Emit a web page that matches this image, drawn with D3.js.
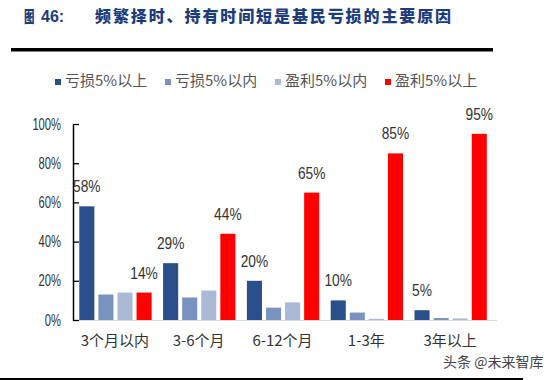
<!DOCTYPE html>
<html>
<head>
<meta charset="utf-8">
<script src="https://cdn.jsdelivr.net/npm/d3@7"></script>
<style>
  body { margin: 0; background: #fff; }
  svg { display: block; }
  text { font-family: "Liberation Sans", Arial, "Noto Sans CJK SC", sans-serif; }
  .cjk { font-family: "Noto Sans CJK SC", sans-serif; }
</style>
</head>
<body>
<div class="chart"></div>
<script>
const width = 556;
const height = 380;

const categories = ['3个月以内', '3-6个月', '6-12个月', '1-3年', '3年以上'];
const seriesNames = ['亏损5%以上', '亏损5%以内', '盈利5%以内', '盈利5%以上'];
const lossOver5 = [58, 29, 20, 10, 5];
const lossUnder5 = [13, 11.5, 6.3, 3.8, 1];
const gainUnder5 = [14, 15, 9, 0.6, 0.8];
const gainOver5 = [14, 44, 65, 85, 95];
const yTicks = [0, 20, 40, 60, 80, 100];
const colors = ['#2b4f8b', '#7a93be', '#aab9d5', '#ff0000'];

const seriesValues = [lossOver5, lossUnder5, gainUnder5, gainOver5];
const rows = categories.map((c, i) => ({cat: c, vals: seriesValues.map(s => s[i])}));

const svg = d3.select('.chart').append('svg')
    .attr('width', width)
    .attr('height', height);

/*      title      */
const navy = '#1c3c7c';
svg.append('text').attr('class', 'cjk')
    .attr('transform', 'translate(24,22) scale(0.7,1)')
    .attr('font-size', 15).attr('font-weight', 900).attr('fill', navy)
    .text('图');
svg.append('text')
    .attr('x', 41).attr('y', 22)
    .attr('font-size', 16).attr('font-weight', 700).attr('fill', navy)
    .text('46:');
svg.append('text').attr('class', 'cjk')
    .attr('x', 95).attr('y', 22)
    .attr('font-size', 16).attr('font-weight', 900).attr('fill', navy)
    .attr('letter-spacing', 1.9)
    .text('频繁择时、持有时间短是基民亏损的主要原因');

// thick rules top and bottom
svg.append('line').attr('x1', 11).attr('x2', 493).attr('y1', 49.7).attr('y2', 49.7)
    .attr('stroke', '#000').attr('stroke-width', 3.6);
svg.append('line').attr('x1', 0).attr('x2', 523).attr('y1', 379.5).attr('y2', 379.5)
    .attr('stroke', '#000').attr('stroke-width', 3);

/*      legend      */
const legend = svg.selectAll('.legend')
    .data(seriesNames)
    .enter()
    .append('g')
    .attr('class', 'legend')
    .attr('transform', (d, i) => `translate(${65 + i * 110}, 81)`);
legend.append('rect')
    .attr('x', -10).attr('y', -2).attr('width', 6).attr('height', 6)
    .attr('fill', (d, i) => colors[i]);
legend.append('text').attr('class', 'cjk')
    .attr('x', 0).attr('y', 0).attr('dy', '0.36em')
    .attr('font-size', 15).attr('fill', '#555')
    .text(d => d);

/*      scales      */
const x0 = d3.scaleBand()
    .domain(categories)
    .range([73, 492]);
const x1 = d3.scaleBand()
    .domain(d3.range(seriesNames.length))
    .range([6.3, 78.6])
    .paddingInner(0.21);
const yScale = d3.scaleLinear()
    .domain([0, 100])
    .range([320, 124]);

// faint baseline
svg.append('line')
    .attr('x1', 73).attr('x2', 497)
    .attr('y1', yScale(0) + 0.5).attr('y2', yScale(0) + 0.5)
    .attr('stroke', '#d6dce8').attr('stroke-width', 1);

/*      y axis      */
const sx = 0.7;
const yAxis = svg.append('g')
    .attr('transform', 'translate(73,0)')
    .call(d3.axisLeft(yScale).tickValues(yTicks).tickSizeInner(-6).tickSizeOuter(0)
        .tickFormat(d => d + '%'));
yAxis.select('.domain').attr('stroke', '#000').attr('stroke-width', 1.5);
yAxis.selectAll('.tick line').attr('stroke', '#000').attr('stroke-width', 1.3);
yAxis.selectAll('.tick text')
    .attr('font-size', 16).attr('fill', '#333')
    .attr('font-family', '"Liberation Sans", Arial, sans-serif')
    .attr('x', -12 / sx)
    .attr('transform', `scale(${sx},1)`);

/*      bars      */
const groups = svg.selectAll('.grp')
    .data(rows)
    .enter()
    .append('g')
    .attr('class', 'grp')
    .attr('transform', d => `translate(${x0(d.cat)},0)`);
groups.selectAll('rect')
    .data(d => d.vals)
    .enter()
    .append('rect')
    .attr('x', (d, i) => x1(i))
    .attr('width', x1.bandwidth())
    .attr('y', d => yScale(d))
    .attr('height', d => yScale(0) - yScale(d))
    .attr('fill', (d, i) => colors[i]);

/*      value labels on first and last series      */
const ls = 0.86;
groups.selectAll('.val')
    .data(d => d.vals.map((v, i) => ({v, i})).filter(e => e.i === 0 || e.i === 3))
    .enter()
    .append('text')
    .attr('class', 'val')
    .attr('transform', e => `translate(${x1(e.i) + x1.bandwidth() / 2},${yScale(e.v) - 14}) scale(${ls},1)`)
    .attr('text-anchor', 'middle')
    .attr('font-size', 16).attr('fill', '#333')
    .text(e => e.v + '%');

/*      category labels      */
svg.selectAll('.cat')
    .data(categories)
    .enter()
    .append('text')
    .attr('class', 'cat cjk')
    .attr('x', d => x0(d) + x0.bandwidth() / 2)
    .attr('y', 341).attr('dy', '0.36em')
    .attr('text-anchor', 'middle')
    .attr('font-size', 15).attr('fill', '#333')
    .text(d => d);

/*      watermark      */
svg.append('text').attr('class', 'cjk')
    .attr('x', 443).attr('y', 362).attr('dy', '0.36em')
    .attr('font-size', 14).attr('fill', '#444')
    .attr('stroke', '#fff').attr('stroke-width', 2).attr('paint-order', 'stroke')
    .text('头条 @未来智库');
</script>
</body>
</html>
